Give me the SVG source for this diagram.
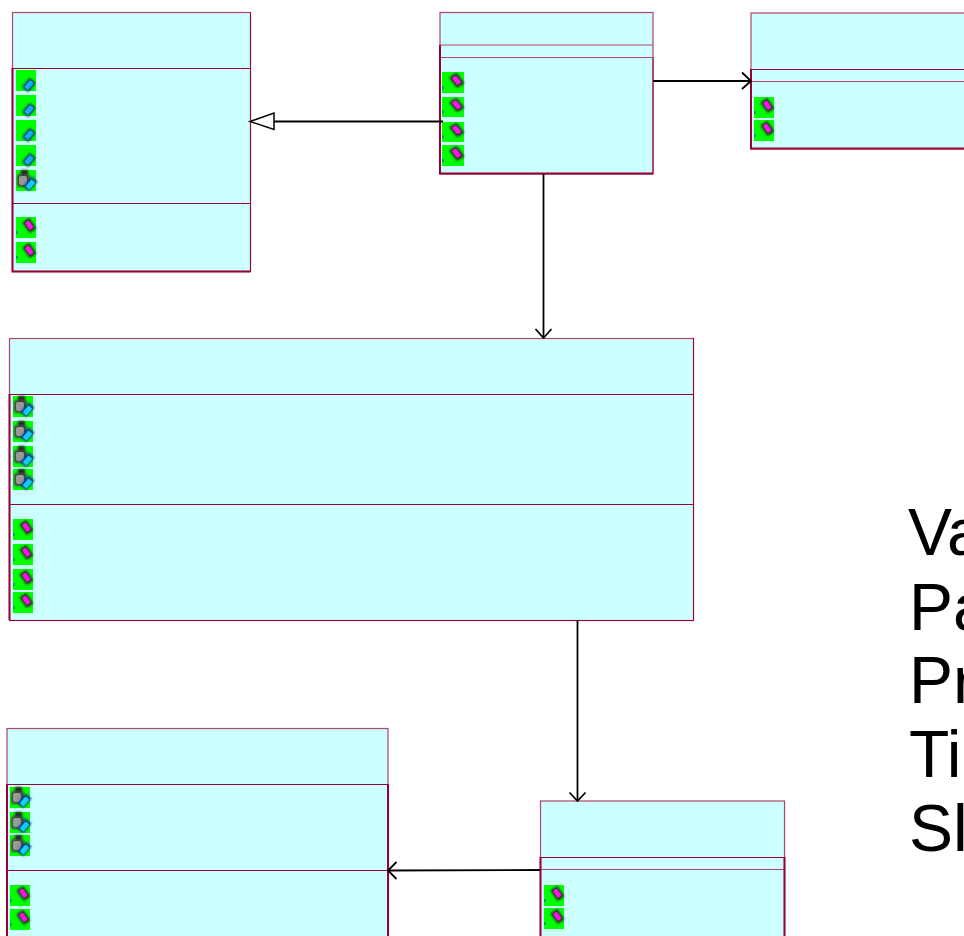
<svg xmlns="http://www.w3.org/2000/svg" width="964" height="936" viewBox="0 0 964 936">
<style>
.box{fill:#ccffff;stroke:#b04468;stroke-width:1.200}
.div{stroke:#990033;stroke-width:1;fill:none}
.lite{stroke:#b04468;stroke-width:1.200;fill:none}
.heavy{stroke:#990033;stroke-width:2;fill:none}
.edge{stroke:#000;stroke-width:1.800;fill:none}
.arr{stroke:#000;stroke-width:1.800;fill:none}
.legend{font-family:"Liberation Sans",Arial,sans-serif;font-size:66px;fill:#000}
</style>
<defs>
<filter id="soft" x="-30%" y="-30%" width="160%" height="160%"><feGaussianBlur stdDeviation="0.9"/></filter>
<g id="attr"><rect width="20" height="21" fill="#00ff00"/><g filter="url(#soft)"><rect x="9" y="9" width="8" height="12" rx="1" transform="rotate(40 13 15)" fill="#103070"/></g><rect x="10.500" y="10.500" width="5" height="9" rx="1" transform="rotate(40 13 15)" fill="#11aaff"/></g>
<g id="assoc"><rect width="20" height="21" fill="#00ff00"/><g filter="url(#soft)"><path d="M5 0h7v5h-7z" fill="#222"/><rect x="1" y="4" width="13" height="13" rx="3" fill="#444"/></g><rect x="3" y="6" width="8" height="9" rx="2" fill="#999"/><g filter="url(#soft)"><rect x="10" y="7.500" width="8" height="13" rx="1" transform="rotate(40 14.500 14.500)" fill="#104090"/></g><rect x="12" y="10" width="5" height="9" rx="1" transform="rotate(40 14.500 14.500)" fill="#11ccff"/></g>
<g id="oper"><rect width="20" height="21" fill="#00ff00"/><g filter="url(#soft)"><rect x="9" y="2" width="8.500" height="13" rx="1" transform="rotate(-35 13.200 8.200)" fill="#303030"/></g><rect x="11" y="4" width="4.500" height="8.500" rx="1" transform="rotate(-35 13.200 8.200)" fill="#ff11ee"/><rect x="0" y="14" width="1.500" height="3" fill="#2050c0" opacity=".7"/></g>
</defs>

<g id="node-a">
<rect class="box" x="12.500" y="12.500" width="238" height="259"/>
<path class="div" d="M12.500 68.500H250.500M12.500 203.500H250.500M250.500 12.500V271"/>
<path class="heavy" d="M12.500 68V271.500H250.500"/>
<use href="#attr" x="16" y="70"/><use href="#attr" x="16" y="95"/><use href="#attr" x="16" y="120"/><use href="#attr" x="16" y="145"/>
<use href="#assoc" x="16" y="170"/>
<use href="#oper" x="16" y="217"/><use href="#oper" x="16" y="242"/>
</g>

<g id="node-b">
<rect class="box" x="440" y="12.500" width="213" height="161.500"/>
<path class="div" d="M653 57V174"/>
<path class="lite" d="M440 45H653M440 57.500H653"/>
<path class="heavy" d="M440 45V173.500H653"/>
<g transform="translate(442 72) scale(1.100 1)"><use href="#oper"/></g>
<g transform="translate(442 97) scale(1.100 .95)"><use href="#oper"/></g>
<g transform="translate(442 122) scale(1.100 .95)"><use href="#oper"/></g>
<g transform="translate(442 145) scale(1.100 1)"><use href="#oper"/></g>
</g>

<g id="node-c">
<rect class="box" x="751" y="13" width="220" height="136"/>
<path class="div" d="M751 69.500H964"/>
<path class="lite" d="M751 81.500H964"/>
<path class="heavy" d="M751 69V148.500H964"/>
<use href="#oper" x="754" y="97"/><use href="#oper" x="754" y="120"/>
</g>

<g id="node-d">
<rect class="box" x="9.500" y="338.500" width="684" height="282"/>
<path class="div" d="M9.500 394.500H693.500M9.500 504.500H693.500M693.500 338V620.500H9.500"/>
<path class="heavy" d="M9.500 394V620"/>
<use href="#assoc" x="13" y="396"/><use href="#assoc" x="13" y="421"/><use href="#assoc" x="13" y="446"/><use href="#assoc" x="13" y="469"/>
<use href="#oper" x="13" y="519"/><use href="#oper" x="13" y="544"/><use href="#oper" x="13" y="569"/><use href="#oper" x="13" y="592"/>
</g>

<g id="node-e">
<rect class="box" x="7" y="728.500" width="381" height="220"/>
<path class="div" d="M7 784.500H388M7 870.500H388"/>
<path class="heavy" d="M388 784V936M7 784V936"/>
<use href="#assoc" x="10" y="787"/><use href="#assoc" x="10" y="812"/><use href="#assoc" x="10" y="835"/>
<use href="#oper" x="10" y="885"/><use href="#oper" x="10" y="909"/>
</g>

<g id="node-f">
<rect class="box" x="540.500" y="801" width="244" height="150"/>
<path class="div" d="M540.500 857.500H784.500"/>
<path class="lite" d="M540.500 869.500H784.500"/>
<path class="heavy" d="M540.500 857V936M784.500 857V936"/>
<use href="#oper" x="544" y="885"/><use href="#oper" x="544" y="908"/>
</g>

<g id="legend">
<text class="legend" x="908" y="555">Va</text>
<text class="legend" x="909" y="630">Pa</text>
<text class="legend" x="909" y="703">Pr</text>
<text class="legend" x="909" y="777">Ti</text>
<text class="legend" x="909" y="851">Sl</text>
</g>

<g id="connectors">
<path class="edge" d="M443 121.500H274"/>
<path d="M250 121.500L274 113V129.500Z" fill="#fff" stroke="#000" stroke-width="1.500"/>
<path class="edge" d="M653 81H751"/>
<path class="arr" d="M742 72.500L751 81L742 89"/>
<path class="edge" d="M543.500 174V338"/>
<path class="arr" d="M535.500 329L543.500 338L551.500 329"/>
<path class="edge" d="M577.500 620V801"/>
<path class="arr" d="M569.500 792.500L577.500 801L585.500 792.500"/>
<path class="edge" d="M540 870L388 870.500"/>
<path class="arr" d="M396.500 862L388 870.500L396.500 879"/>
</g>
</svg>
